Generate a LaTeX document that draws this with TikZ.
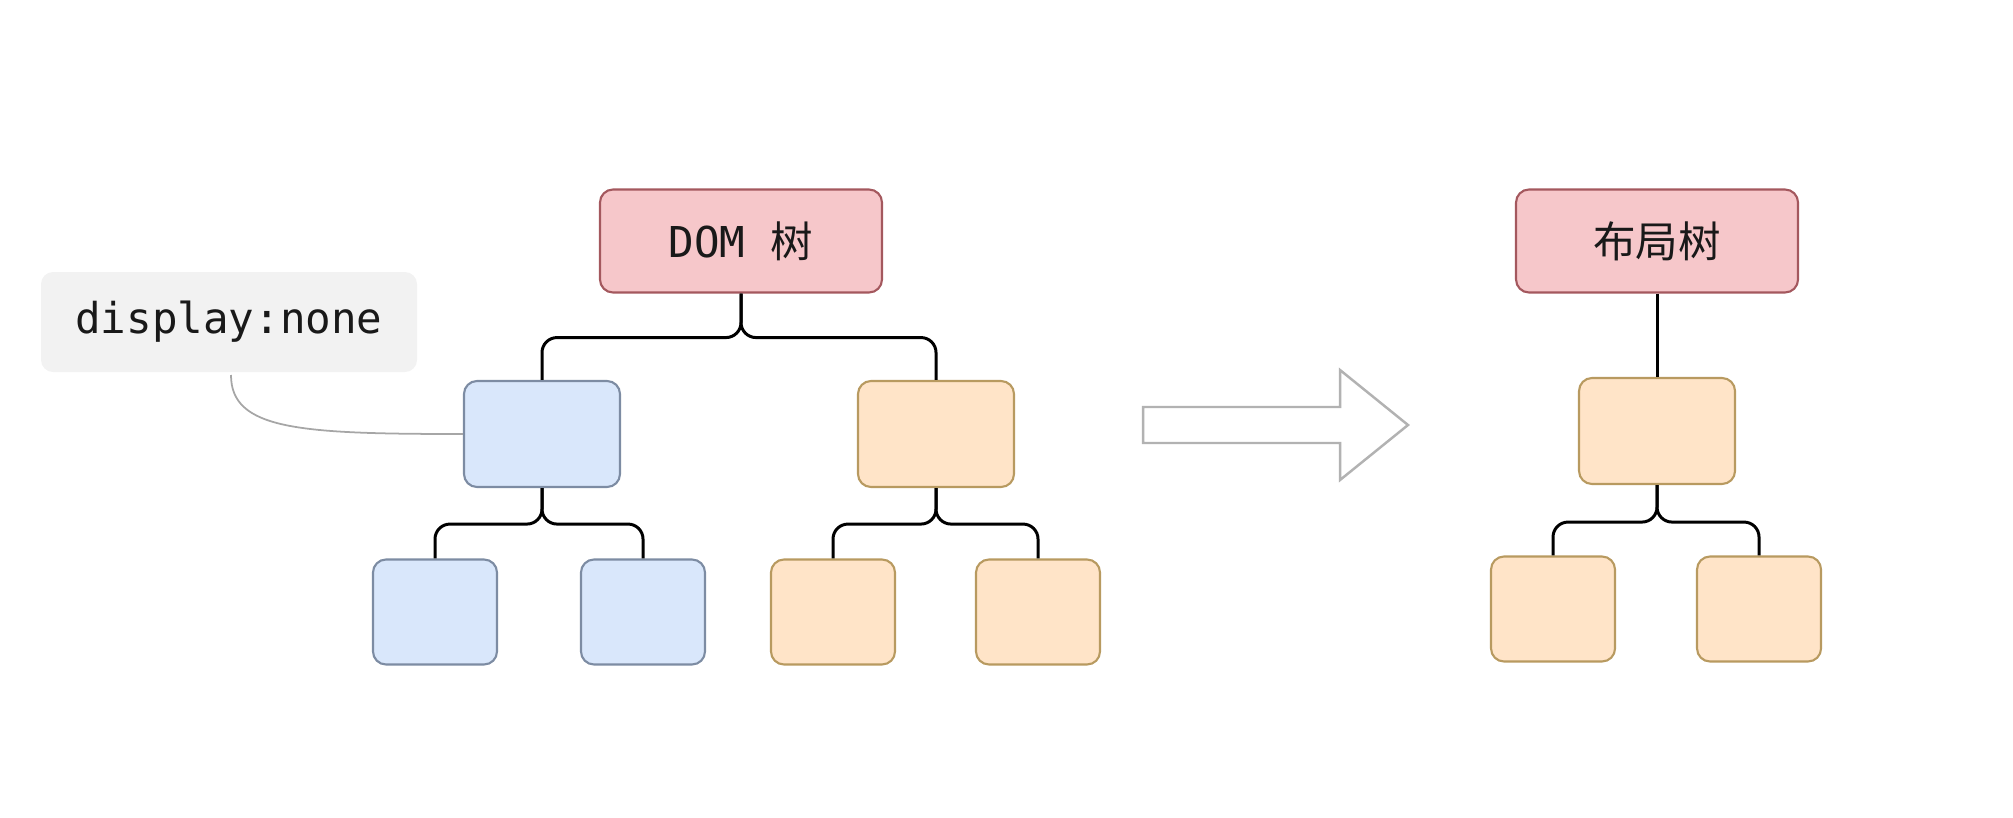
\documentclass[tikz,border=0pt]{standalone}
\usepackage{fontspec}
\setmonofont{DejaVu Sans Mono}
\newfontfamily\cjk{Noto Sans CJK SC}
\definecolor{pinkfill}{HTML}{F6C7CA}
\definecolor{pinkline}{HTML}{A4585E}
\definecolor{bluefill}{HTML}{D9E7FB}
\definecolor{blueline}{HTML}{7D8CA3}
\definecolor{orfill}{HTML}{FFE4C8}
\definecolor{orline}{HTML}{B89A60}
\definecolor{notefill}{HTML}{F2F2F2}
\tikzset{>=stealth,
  box/.style={draw, rounded corners=0.13cm, line width=0.6pt, inner sep=0pt, text=black!90},
  rootbox/.style={box, fill=pinkfill, draw=pinkline, minimum width=2.82cm, minimum height=1.03cm},
  midbox/.style={box, minimum width=1.56cm, minimum height=1.06cm},
  leafbox/.style={box, minimum width=1.24cm, minimum height=1.05cm},
  blue/.style={fill=bluefill, draw=blueline},
  orange/.style={fill=orfill, draw=orline},
  branch/.style={draw=black, line width=0.85pt, rounded corners=0.15cm},
  txt/.style={font=\fontsize{12.1}{14}\selectfont}}

\begin{document}
\begin{tikzpicture}
\useasboundingbox (0,0) rectangle (20.13,-8.17);
\node[rootbox, txt] (dom) at (7.41,-2.41) {\texttt{DOM\ }{\cjk 树}};
\node[midbox, blue] (bl) at (5.42,-4.34) {};
\node[midbox, orange] (or) at (9.36,-4.34) {};
\node[leafbox, blue] (bla) at (4.35,-6.12) {};
\node[leafbox, blue] (blb) at (6.43,-6.12) {};
\node[leafbox, orange] (ora) at (8.33,-6.12) {};
\node[leafbox, orange] (orb) at (10.38,-6.12) {};
\node[fill=notefill, rounded corners=0.12cm, minimum width=3.76cm, minimum height=1.0cm, txt, text=black!90] (note) at (2.29,-3.22) {\texttt{display:none}};
\draw[branch] (dom.south) -- ++(0,-0.44) -| (bl.north);
\draw[branch] (dom.south) -- ++(0,-0.44) -| (or.north);
\draw[branch] (bl.south) -- ++(0,-0.36) -| (bla.north);
\draw[branch] (bl.south) -- ++(0,-0.36) -| (blb.north);
\draw[branch] (or.south) -- ++(0,-0.36) -| (ora.north);
\draw[branch] (or.south) -- ++(0,-0.36) -| (orb.north);
\draw[black!35, line width=0.5pt] (2.31,-3.75) .. controls (2.31,-4.3) and (3.0,-4.34) .. (bl.west);
\draw[black!30, line width=0.7pt, fill=white] (11.43,-4.07) -- (13.40,-4.07) -- (13.40,-3.70) -- (14.08,-4.25) -- (13.40,-4.80) -- (13.40,-4.43) -- (11.43,-4.43) -- cycle;
\node[rootbox, txt] (lay) at (16.57,-2.41) {\cjk 布局树};
\node[midbox, orange] (lm) at (16.57,-4.31) {};
\node[leafbox, orange] (lma) at (15.53,-6.09) {};
\node[leafbox, orange] (lmb) at (17.59,-6.09) {};
\draw[branch] (lay.south) -- (lm.north);
\draw[branch] (lm.south) -- ++(0,-0.37) -| (lma.north);
\draw[branch] (lm.south) -- ++(0,-0.37) -| (lmb.north);
\end{tikzpicture}
\end{document}
